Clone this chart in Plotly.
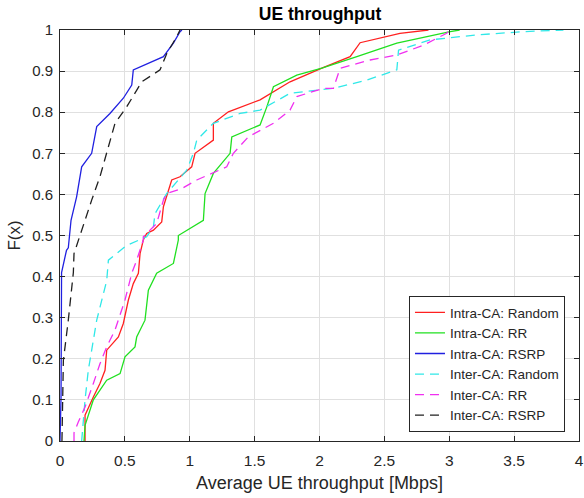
import plotly.graph_objects as go

intra_random_x = [0.193, 0.193, 0.257, 0.308, 0.347, 0.36, 0.45, 0.488, 0.527, 0.565, 0.604, 0.617, 0.642, 0.668, 0.72, 0.784, 0.797, 0.861, 0.925, 1.015, 1.041, 1.182, 1.182, 1.298, 1.542, 1.773, 2.018, 2.236, 2.313, 2.62, 2.84]
intra_random_y = [0.0, 0.063, 0.107, 0.14, 0.172, 0.221, 0.253, 0.286, 0.343, 0.383, 0.408, 0.456, 0.489, 0.505, 0.513, 0.533, 0.57, 0.635, 0.643, 0.667, 0.70, 0.732, 0.773, 0.801, 0.83, 0.874, 0.907, 0.935, 0.969, 0.992, 1.0]

intra_rr_x = [0.185, 0.193, 0.257, 0.36, 0.463, 0.501, 0.578, 0.591, 0.655, 0.681, 0.745, 0.874, 0.912, 0.912, 1.105, 1.118, 1.182, 1.311, 1.324, 1.542, 1.594, 1.645, 1.825, 2.018, 2.288, 2.596, 3.007, 3.08]
intra_rr_y = [0.0, 0.038, 0.1, 0.148, 0.164, 0.205, 0.229, 0.253, 0.294, 0.367, 0.408, 0.432, 0.489, 0.5, 0.537, 0.602, 0.651, 0.70, 0.74, 0.769, 0.813, 0.862, 0.89, 0.907, 0.935, 0.968, 0.996, 1.0]

intra_rsrp_x = [0.0, 0.008, 0.012, 0.05, 0.064, 0.085, 0.128, 0.167, 0.244, 0.283, 0.385, 0.488, 0.553, 0.565, 0.797, 0.874, 0.925, 0.94]
intra_rsrp_y = [0.0, 0.107, 0.41, 0.464, 0.47, 0.537, 0.594, 0.667, 0.70, 0.765, 0.797, 0.834, 0.866, 0.903, 0.935, 0.968, 0.996, 1.0]

inter_random_x = [0.167, 0.193, 0.218, 0.283, 0.36, 0.373, 0.514, 0.617, 0.668, 0.72, 0.732, 0.822, 0.977, 1.028, 1.054, 1.182, 1.388, 1.542, 1.773, 2.107, 2.364, 2.596, 2.609, 2.853, 3.213, 3.572, 3.88]
inter_random_y = [0.0, 0.1, 0.172, 0.294, 0.39, 0.44, 0.476, 0.489, 0.497, 0.521, 0.553, 0.602, 0.659, 0.70, 0.732, 0.773, 0.797, 0.805, 0.846, 0.858, 0.878, 0.903, 0.951, 0.976, 0.988, 0.996, 1.0]

inter_rr_x = [0.108, 0.108, 0.141, 0.193, 0.257, 0.308, 0.36, 0.424, 0.501, 0.553, 0.591, 0.642, 0.642, 0.745, 0.797, 0.822, 0.938, 1.054, 1.285, 1.336, 1.452, 1.645, 1.773, 1.825, 2.03, 2.107, 2.159, 2.39, 2.596, 2.80, 2.98, 3.0]
inter_rr_y = [0.0, 0.02, 0.046, 0.083, 0.14, 0.188, 0.229, 0.27, 0.343, 0.408, 0.44, 0.489, 0.497, 0.529, 0.586, 0.602, 0.614, 0.635, 0.667, 0.70, 0.74, 0.773, 0.805, 0.838, 0.858, 0.858, 0.907, 0.927, 0.939, 0.963, 0.992, 1.0]

inter_rsrp_x = [0.015, 0.026, 0.064, 0.103, 0.108, 0.116, 0.154, 0.244, 0.308, 0.36, 0.424, 0.514, 0.63, 0.771, 0.823, 0.9, 0.925]
inter_rsrp_y = [0.0, 0.196, 0.294, 0.41, 0.456, 0.464, 0.50, 0.586, 0.643, 0.70, 0.773, 0.813, 0.874, 0.903, 0.943, 0.984, 1.0]

x_ticks = [0, 0.5, 1, 1.5, 2, 2.5, 3, 3.5, 4]
x_tick_labels = ["0", "0.5", "1", "1.5", "2", "2.5", "3", "3.5", "4"]
y_ticks = [0, 0.1, 0.2, 0.3, 0.4, 0.5, 0.6, 0.7, 0.8, 0.9, 1]
y_tick_labels = ["0", "0.1", "0.2", "0.3", "0.4", "0.5", "0.6", "0.7", "0.8", "0.9", "1"]

series = [
    ("Intra-CA: Random", intra_random_x, intra_random_y, "#ff2020", "solid"),
    ("Intra-CA: RR", intra_rr_x, intra_rr_y, "#20e020", "solid"),
    ("Intra-CA: RSRP", intra_rsrp_x, intra_rsrp_y, "#2020e0", "solid"),
    ("Inter-CA: Random", inter_random_x, inter_random_y, "#30e8e8", "9px,6px"),
    ("Inter-CA: RR", inter_rr_x, inter_rr_y, "#f030f0", "9px,6px"),
    ("Inter-CA: RSRP", inter_rsrp_x, inter_rsrp_y, "#202020", "9px,6px"),
]

fig = go.Figure()
for name, xs, ys, color, dash in series:
    fig.add_trace(go.Scatter(x=xs, y=ys, mode="lines", name=name,
                             line=dict(color=color, width=1.3, dash=dash)))

FONT = "Liberation Sans, Arial"
axis_common = dict(showline=True, linecolor="#262626", linewidth=1, mirror="ticks",
                   ticks="inside", ticklen=5, tickcolor="#262626",
                   showgrid=True, gridcolor="#e0e0e0", gridwidth=1, zeroline=False)

fig.update_layout(
    width=584, height=498,
    margin=dict(l=60, r=5, t=30, b=57, autoexpand=False),
    paper_bgcolor="white", plot_bgcolor="white",
    title=dict(text="<b>UE throughput</b>", x=0.548, xanchor="center", y=0.973, yanchor="middle",
               font=dict(family=FONT, size=17.5, color="black")),
    xaxis=dict(range=[0, 4], tickvals=x_ticks, ticktext=x_tick_labels,
               tickfont=dict(family=FONT, size=15.5, color="#262626"), ticklabelstandoff=5,
               title=dict(text="Average UE throughput [Mbps]", standoff=8,
                          font=dict(family=FONT, size=18, color="#262626")),
               **axis_common),
    yaxis=dict(range=[0, 1], tickvals=y_ticks, ticktext=y_tick_labels,
               tickfont=dict(family=FONT, size=15, color="#262626"), ticklabelstandoff=3,
               title=dict(text="F(x)", standoff=7,
                          font=dict(family=FONT, size=17, color="#262626")),
               **axis_common),
    legend=dict(x=0.973, y=0.187, xanchor="right", yanchor="middle",
                bgcolor="white", bordercolor="#262626", borderwidth=1,
                font=dict(family=FONT, size=13.5, color="#262626"),
                tracegroupgap=0, itemwidth=30),
    showlegend=True,
)

fig.write_html("out.html")
